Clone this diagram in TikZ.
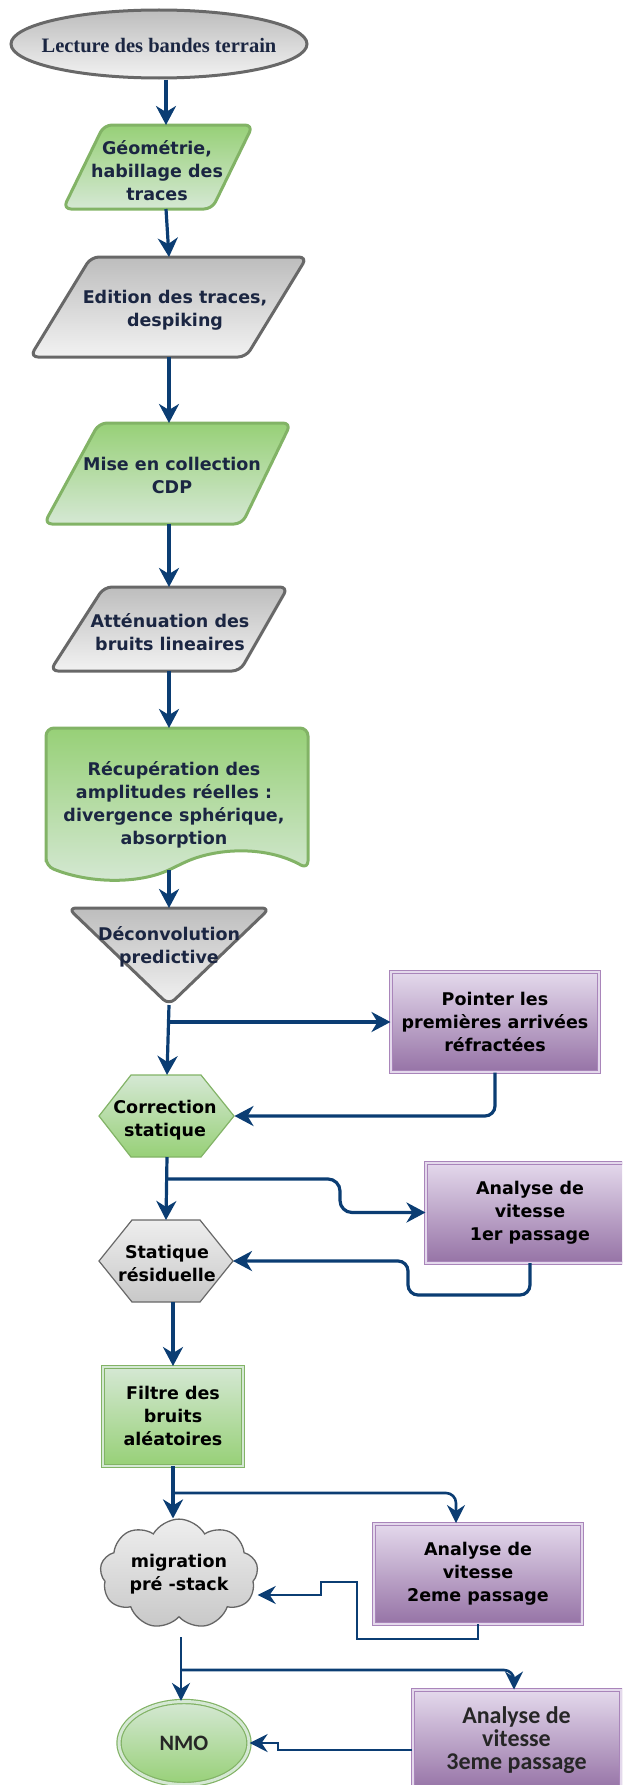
\documentclass[tikz,border=0pt]{standalone}
\usepackage{fontspec}
\usetikzlibrary{arrows.meta,shapes.geometric,shapes.symbols,calc}
\newfontfamily\comicf{DejaVu Sans}
\newfontfamily\serff{Liberation Serif}
\newfontfamily\calf{Carlito}
\definecolor{arrowblue}{HTML}{0B3D73}
\definecolor{gtop}{HTML}{BDBDBD}
\definecolor{gbot}{HTML}{F2F2F2}
\definecolor{gborder}{HTML}{686868}
\definecolor{grtop}{HTML}{97D077}
\definecolor{grbot}{HTML}{D5E8D4}
\definecolor{grborder}{HTML}{82B366}
\definecolor{ptop}{HTML}{E4D9EC}
\definecolor{pbot}{HTML}{9673A6}
\definecolor{pborder}{HTML}{A985BA}
\definecolor{navytext}{HTML}{1B2642}
\definecolor{cltop}{HTML}{EEEEEE}
\definecolor{clbot}{HTML}{C8C8C8}
\tikzset{
  anc/.style 2 args={inner sep=0pt, outer sep=0pt, minimum width=#1, minimum height=#2},
  conn/.style={draw=arrowblue, line width=3.2pt, -{Stealth[length=19pt,width=20pt,inset=6pt]}},
  connb/.style={draw=arrowblue, line width=2.6pt, -{Stealth[length=18pt,width=18pt,inset=6pt]}},
  grayshape/.style={top color=gtop, bottom color=gbot, draw=gborder, line width=3pt, rounded corners=8pt, line join=round},
  greenshape/.style={top color=grtop, bottom color=grbot, draw=grborder, line width=3pt, rounded corners=8pt, line join=round},
  lbl/.style={align=center, inner sep=0pt, text=navytext, font=\comicf\bfseries\fontsize{17.5}{23}\selectfont},
  lblk/.style={lbl, text=black},
  pbox/.style={rectangle, top color=ptop, bottom color=pbot, draw=pborder, double=ptop, double distance=2pt, line width=1pt, minimum width=208pt, minimum height=100pt, inner sep=0pt, lblk},
}
\begin{document}
\begin{tikzpicture}[x=1pt,y=-1pt]
\useasboundingbox (0,0) rectangle (622,1785);
\clip (0,0) rectangle (622,1785);

% --- shapes ---
\node[ellipse, top color=gtop, bottom color=gbot, draw=gborder, line width=3pt,
      minimum width=296pt, minimum height=68pt, inner sep=0pt] (lect) at (159,44) {};
\node[text=navytext, inner sep=0pt, font=\serff\bfseries\fontsize{20.5}{24}\selectfont] (lectt) at (159,46) {Lecture des bandes terrain};

\path[greenshape] (104,125) -- (253,125) -- (212,209) -- (63,209) -- cycle;
\node[anc={150pt}{84pt}] (geo) at (166,167) {};
\node[lbl] (geot) at (157,171) {Géométrie,\\habillage des\\traces};

\path[grayshape] (91,257) -- (307,257) -- (246,357) -- (30,357) -- cycle;
\node[anc={200pt}{100pt}] (edit) at (169,307) {};
\node[lbl] (editt) at (175,310) {Edition des traces,\\despiking};

\path[greenshape] (99,423) -- (291,423) -- (242,524) -- (44,524) -- cycle;
\node[anc={200pt}{101pt}] (mise) at (169,473.5) {};
\node[lbl] (miset) at (172,475) {Mise en collection\\CDP};

\path[grayshape] (104,587) -- (288,587) -- (240,671) -- (50,671) -- cycle;
\node[anc={190pt}{84pt}] (att) at (169,629) {};
\node[lbl] (attt) at (170,632) {Atténuation des\\bruits lineaires};

\path[greenshape] (46,866) -- (46,728) -- (308,728) -- (308,869)
   .. controls (265,845) and (215,848) .. (177,866)
   .. controls (140,884) and (90,884) .. (46,866) -- cycle;
\node[anc={200pt}{142pt}] (doc) at (169,799) {};
\node[lbl] (doct) at (174,805) {Récupération des\\amplitudes réelles :\\divergence sphérique,\\absorption};

\path[grayshape] (68,908) -- (270,908) -- (169,1005) -- cycle;
\node[anc={202pt}{97pt}] (tri) at (169,956.5) {};
\node[lbl] (trit) at (169,947) {Déconvolution\\predictive};

\node[pbox] (pointer) at (495,1022) {Pointer les\\premières arrivées\\réfractées};

\path[top color=grbot, bottom color=grtop, draw=grborder, line width=1.2pt]
   (99,1116) -- (131,1075) -- (201,1075) -- (234,1116) -- (201,1157) -- (131,1157) -- cycle;
\node[anc={135pt}{82pt}] (corr) at (167,1116) {};
\node[lblk] (corrt) at (165,1120) {Correction\\statique};

\node[pbox] (an1) at (530,1212.5) {Analyse de\\vitesse\\1er passage};

\path[top color=cltop, bottom color=clbot, draw=gborder, line width=1.2pt]
   (99,1261) -- (132,1220) -- (200,1220) -- (233,1261) -- (200,1302) -- (132,1302) -- cycle;
\node[anc={134pt}{82pt}] (stat) at (166,1261) {};
\node[lblk] (statt) at (167,1263) {Statique\\résiduelle};

\node[rectangle, top color=grbot, bottom color=grtop, draw=grborder, double=grbot,
      double distance=2pt, line width=1pt, minimum width=140pt, minimum height=99pt,
      inner sep=0pt, lblk] (filtre) at (173,1416) {Filtre des\\bruits\\aléatoires};

\node[cloud, cloud puffs=9, cloud puff arc=120, aspect=1.6, top color=cltop, bottom color=clbot,
      draw=gray!80!black, line width=1.3pt, minimum width=158pt, minimum height=94pt,
      inner sep=0pt, lblk] (mig) at (179,1574) {migration\\pré -stack};

\node[pbox] (an2) at (478,1573.5) {Analyse de\\vitesse\\2eme passage};

\node[ellipse, draw=grborder, double=grbot, double distance=3pt, line width=1.2pt,
      top color=grbot, bottom color=grtop, minimum width=130pt, minimum height=83pt,
      inner sep=0pt, text=black!85, font=\calf\bfseries\fontsize{22}{26}\selectfont] (nmo) at (184,1743) {NMO};

\node[pbox, font=\calf\bfseries\fontsize{24}{23}\selectfont, text=black!85] (an3) at (516.5,1740) {Analyse de\\vitesse\\3eme passage};

% --- connectors ---
\draw[conn] (lect.south -| geo.north) -- (geo.north);
\draw[conn] (geo.south) -- (edit.north);
\draw[conn] (edit.south) -- (mise.north);
\draw[conn] (mise.south) -- (att.north);
\draw[conn] (att.south) -- (doc.north);
\draw[conn] (doc.south) -- (tri.north);
\draw[conn] (tri.south) -- (corr.north);
\draw[conn] (tri.south |- pointer.west) -- (pointer.west);
\draw[conn, rounded corners=10pt] (pointer.south) |- (corr.east);

\coordinate (k1) at (340,1179);
\draw[conn, rounded corners=12pt] (corr.south |- k1) -- (k1) |- (an1.west);
\draw[conn] (corr.south) -- (stat.north);
\coordinate (k2) at (408,1295);
\draw[conn, rounded corners=10pt] (an1.south) |- (k2) |- (stat.east);

\draw[conn] (stat.south -| filtre.north) -- (filtre.north);
\draw[conn] (filtre.south) -- (filtre.south |- mig.north);
\coordinate (k3) at (456,1493);
\draw[connb, rounded corners=10pt] (filtre.south |- k3) -- (k3) -- (k3 |- an2.north);

\coordinate (k4) at (357,1639);
\coordinate (k5) at (321,1582);
\coordinate (k6) at (321,1595);
\draw[connb] (an2.south) |- (k4) |- (k5) -- (k6) -- (k6 -| mig.east);

\coordinate (k7) at (181,1637);
\draw[connb] (k7) -- (k7 |- nmo.north);
\coordinate (k8) at (514,1670);
\draw[connb, rounded corners=10pt] (k7 |- k8) -- (k8) -- (k8 |- an3.north);
\coordinate (k9) at (278,1750);
\draw[connb] (k9 -| an3.west) -- (k9) |- (nmo.east);
\end{tikzpicture}
\end{document}
